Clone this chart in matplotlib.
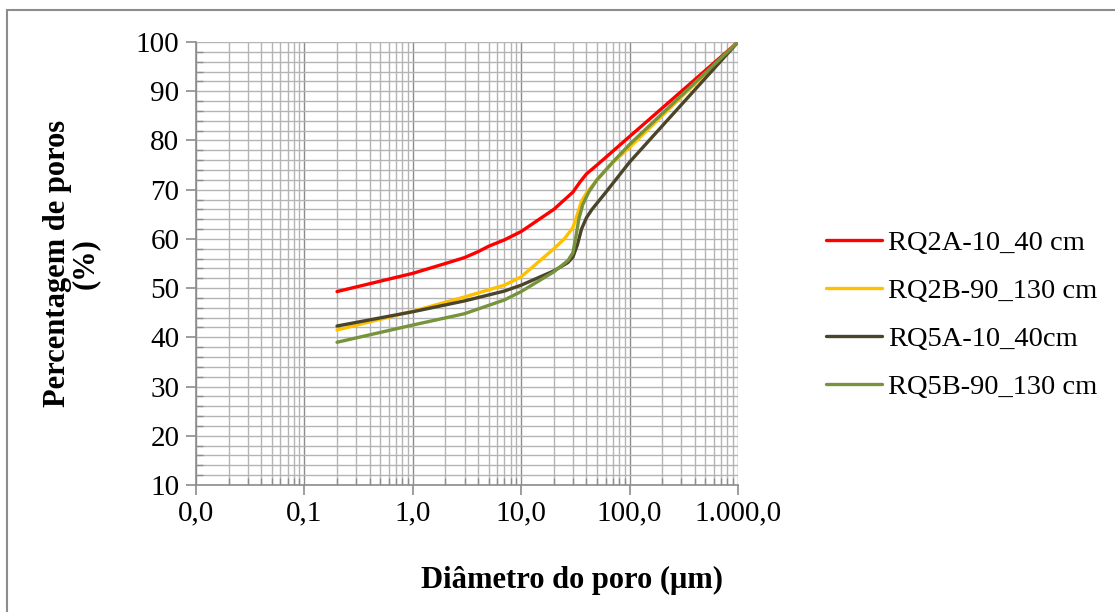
import matplotlib.pyplot as plt
from matplotlib.ticker import FixedLocator, LogLocator, MultipleLocator, NullFormatter
from matplotlib.patches import Rectangle

plt.rcParams['font.family'] = ['Liberation Serif', 'DejaVu Serif']

# pore diameter (um) and cumulative pore percentage (%)
rq2a_x = [0.2, 1, 2, 3, 4, 5, 7, 10, 20, 30, 35, 40, 50, 100, 1000]
rq2a_y = [49.3, 53.0, 55.0, 56.2, 57.4, 58.5, 59.8, 61.5, 66.0, 69.5, 71.6, 73.2, 75.0, 80.8, 100]

rq2b_x = [0.2, 1, 3, 7, 10, 20, 25, 30, 33, 36, 40, 50, 70, 100, 1000]
rq2b_y = [41.5, 45.3, 48.2, 50.6, 52.3, 58.0, 60.0, 62.3, 65.0, 67.7, 69.3, 72.0, 75.5, 78.6, 100]

rq5a_x = [0.2, 1, 3, 7, 10, 20, 27, 30, 33, 36, 40, 45, 60, 100, 1000]
rq5a_y = [42.3, 45.2, 47.4, 49.4, 50.6, 53.5, 55.2, 56.3, 58.8, 62.0, 64.3, 66.0, 69.4, 75.6, 100]

rq5b_x = [0.2, 1, 3, 7, 10, 20, 27, 30, 32, 34, 37, 42, 50, 70, 100, 1000]
rq5b_y = [39.0, 42.5, 44.8, 47.6, 49.3, 53.3, 55.6, 57.2, 60.5, 64.0, 67.0, 69.5, 72.0, 75.6, 79.2, 100]

series = [
    ('RQ2A-10_40 cm', rq2a_x, rq2a_y, '#FF0000'),
    ('RQ2B-90_130 cm', rq2b_x, rq2b_y, '#FFC000'),
    ('RQ5A-10_40cm', rq5a_x, rq5a_y, '#4A452A'),
    ('RQ5B-90_130 cm', rq5b_x, rq5b_y, '#77933C'),
]

x_ticks = [0.01, 0.1, 1, 10, 100, 1000]
x_labels = ['0,0', '0,1', '1,0', '10,0', '100,0', '1.000,0']
y_ticks = list(range(10, 101, 10))

fig = plt.figure(figsize=(11.15, 6.12), dpi=100)
ax = fig.add_axes([196 / 1115, 127 / 612, 542 / 1115, 443 / 612])

for name, xs, ys, c in series:
    ax.plot(xs, ys, color=c, lw=2.4, label=name, solid_capstyle='round',
            solid_joinstyle='round', zorder=3)

ax.set_xscale('log')
ax.set_xlim(0.01, 1000)
ax.set_ylim(10, 100)
ax.xaxis.set_major_locator(FixedLocator(x_ticks))
ax.set_xticklabels(x_labels)
ax.xaxis.set_minor_locator(LogLocator(base=10, subs=range(2, 10)))
ax.xaxis.set_minor_formatter(NullFormatter())
ax.set_yticks(y_ticks)
ax.yaxis.set_minor_locator(MultipleLocator(2))

ax.grid(True, which='minor', color='#b4b4b4', lw=1.0, zorder=0)
ax.grid(True, which='major', axis='y', color='#b4b4b4', lw=1.0, zorder=0)
ax.grid(True, which='major', axis='x', color='#8c8c8c', lw=1.0, zorder=0)
ax.set_axisbelow(True)

for side in ['top', 'right']:
    ax.spines[side].set_visible(False)
for side in ['left', 'bottom']:
    ax.spines[side].set_color('#8c8c8c')
    ax.spines[side].set_linewidth(1.2)

ax.tick_params(which='major', direction='out', length=7, color='#8c8c8c', width=1.2,
               labelsize=21)
ax.tick_params(axis='y', which='major', pad=5)
ax.tick_params(axis='x', which='major', pad=4)
ax.tick_params(which='minor', direction='in', length=5, color='#8c8c8c', width=1.0)

ax.set_ylabel('Percentagem de poros\n(%)', fontsize=22, fontweight='bold', linespacing=0.95)
ax.yaxis.set_label_coords(-0.177, 0.5)
fig.text(572 / 1115, 1 - 580 / 612, 'Diâmetro do poro (μm)', fontsize=22,
         fontweight='bold', ha='center', va='center')

ax.legend(loc='center left', bbox_to_anchor=(1.1156, 0.384), frameon=False, fontsize=20.5,
          handlelength=1.97, handletextpad=0.2, labelspacing=0.78)

# outer chart frame
fig.patches.append(Rectangle((7 / 1115, -0.1), 1.2, 1 - 10 / 612 + 0.1,
                             transform=fig.transFigure, fill=False,
                             edgecolor='#8c8c8c', lw=1.5))

fig.savefig('out.png', dpi=100)
